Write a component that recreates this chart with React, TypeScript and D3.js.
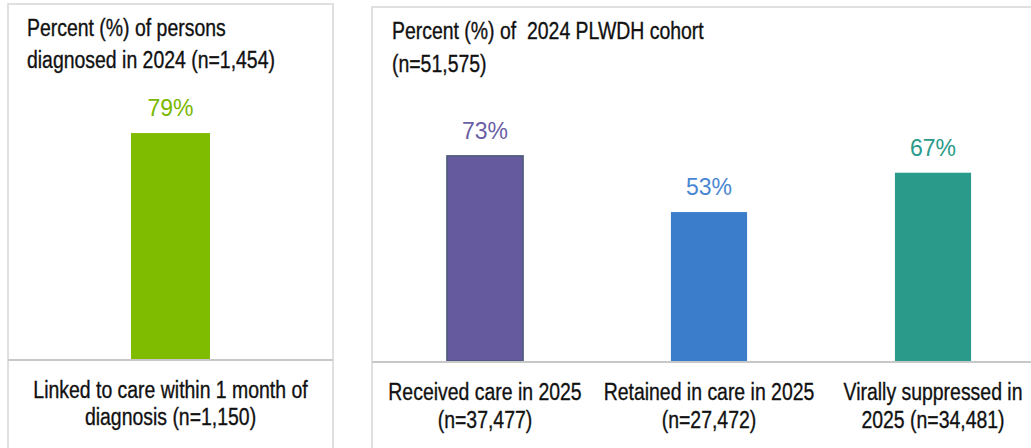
import * as d3 from 'd3';
import { useRef, useEffect } from 'react';

// Left panel: newly diagnosed
const leftTitle = ['Percent (%) of persons', 'diagnosed in 2024 (n=1,454)'];
const leftCategories = ['linked'];
const leftLabels = [['Linked to care within 1 month of', 'diagnosis (n=1,150)']];
const leftValues = [79];
const leftColors = ['#7FBC00'];
const leftTextColors = ['#7AB800'];

// Right panel: PLWDH cohort
const rightTitle = ['Percent (%) of  2024 PLWDH cohort', '(n=51,575)'];
const rightCategories = ['received', 'retained', 'suppressed'];
const rightLabels = [
  ['Received care in 2025', '(n=37,477)'],
  ['Retained in care in 2025', '(n=27,472)'],
  ['Virally suppressed in', '2025 (n=34,481)'],
];
const rightValues = [73, 53, 67];
const rightColors = ['#655A9E', '#3C7DCB', '#2A9A8A'];
const rightTextColors = ['#6A5FA6', '#4A87D2', '#2A9A8A'];
const rightStrokes = ['#4B5A78', 'none', 'none'];

const W = 1031;
const H = 448;
const titleFont = '"Liberation Sans", Arial, sans-serif';
const valueFont = '"Liberation Sans", Arial, sans-serif';
const squeeze = 0.81; // fuente condensada simulada

export default function App() {
  const svgRef = useRef<SVGSVGElement | null>(null);

  useEffect(() => {
    const svg = d3.select(svgRef.current);
    svg.selectAll('*').remove();
    svg.attr('width', W).attr('height', H);

    // Texto condensado: escala horizontal alrededor del ancla
    const narrowText = (
      g: d3.Selection<SVGGElement, unknown, null, undefined>,
      x: number,
      y: number,
      t: string,
      anchor: string,
    ) =>
      g
        .append('text')
        .attr('transform', `translate(${x},${y}) scale(${squeeze},1)`)
        .attr('text-anchor', anchor)
        .attr('font-family', titleFont)
        .attr('font-size', '24px')
        .attr('fill', '#111')
        .attr('stroke', '#111')
        .attr('stroke-width', 0.35)
        .style('white-space', 'pre')
        .text(t);

    const drawPanel = (opts: {
      left: number;
      top: number;
      right: number;
      baseline: number;
      pxPerPct: number;
      title: string[];
      titleX: number;
      titleY: number;
      titleGap: number;
      labelGap: number;
      cats: string[];
      labels: string[][];
      values: number[];
      colors: string[];
      textColors: string[];
      strokes: string[];
      bandRange: [number, number];
      padInner: number;
      padOuter: number;
    }) => {
      const g = svg.append('g') as d3.Selection<SVGGElement, unknown, null, undefined>;

      // Borde del panel
      g.append('rect')
        .attr('x', opts.left)
        .attr('y', opts.top)
        .attr('width', opts.right - opts.left)
        .attr('height', H + 20 - opts.top)
        .attr('fill', 'none')
        .attr('stroke', '#D9D9D9')
        .attr('stroke-width', 1.6);

      // Título
      opts.title.forEach((t, i) => {
        narrowText(g, opts.titleX, opts.titleY + i * opts.titleGap, t, 'start');
      });

      const x = d3
        .scaleBand<string>()
        .domain(opts.cats)
        .range(opts.bandRange)
        .paddingInner(opts.padInner)
        .paddingOuter(opts.padOuter);
      const y = d3
        .scaleLinear()
        .domain([0, 100])
        .range([opts.baseline, opts.baseline - opts.pxPerPct * 100]);

      // Barras
      opts.cats.forEach((c, i) => {
        const v = opts.values[i];
        const cx = x(c)! + x.bandwidth() / 2;
        g.append('rect')
          .attr('x', x(c)!)
          .attr('y', y(v))
          .attr('width', x.bandwidth())
          .attr('height', y(0) - y(v))
          .attr('fill', opts.colors[i])
          .attr('stroke', opts.strokes[i])
          .attr('stroke-width', 1.5);

        g.append('text')
          .attr('x', cx)
          .attr('y', y(v) - 17)
          .attr('text-anchor', 'middle')
          .attr('font-family', valueFont)
          .attr('font-size', '23px')
          .attr('fill', opts.textColors[i])
          .text(`${v}%`);

        opts.labels[i].forEach((t, j) => {
          narrowText(g, cx, opts.baseline + 39 + j * opts.labelGap, t, 'middle');
        });
      });

      // Eje X
      g.append('line')
        .attr('x1', opts.left)
        .attr('x2', opts.right)
        .attr('y1', opts.baseline + 1)
        .attr('y2', opts.baseline + 1)
        .attr('stroke', '#C8C8C8')
        .attr('stroke-width', 2);
    };

    drawPanel({
      left: 8,
      top: 4,
      right: 333,
      baseline: 359,
      pxPerPct: 2.86,
      title: leftTitle,
      titleX: 27,
      titleY: 36,
      titleGap: 32,
      labelGap: 27,
      cats: leftCategories,
      labels: leftLabels,
      values: leftValues,
      colors: leftColors,
      textColors: leftTextColors,
      strokes: ['none'],
      bandRange: [8, 333],
      padInner: 0.609,
      padOuter: 0.609,
    });

    drawPanel({
      left: 372,
      top: 7,
      right: W + 20,
      baseline: 361,
      pxPerPct: 2.81,
      title: rightTitle,
      titleX: 392,
      titleY: 39,
      titleGap: 33,
      labelGap: 28,
      cats: rightCategories,
      labels: rightLabels,
      values: rightValues,
      colors: rightColors,
      textColors: rightTextColors,
      strokes: rightStrokes,
      bandRange: [373, 1045],
      padInner: 0.66,
      padOuter: 0.33,
    });
  }, []);

  return (
    <div style={{ position: 'fixed', left: 0, top: 0, background: '#fff' }}>
      <svg ref={svgRef} style={{ display: 'block' }} />
    </div>
  );
}
